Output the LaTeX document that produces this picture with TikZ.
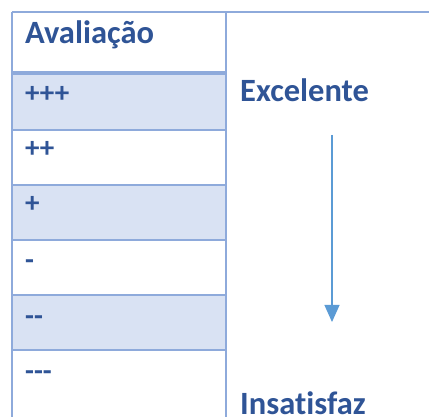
\documentclass[tikz,border=0pt]{standalone}
\usepackage{fontspec}
\setmainfont[Ligatures=NoCommon]{Carlito}
\usetikzlibrary{arrows.meta}
\definecolor{gridc}{HTML}{8EAADB}
\definecolor{shadec}{HTML}{D9E2F3}
\definecolor{textc}{HTML}{2F5496}
\definecolor{arrowc}{HTML}{5B9BD5}
\tikzset{
  gridline/.style={draw=gridc, line width=1.6pt},
  headline/.style={draw=gridc, line width=4pt},
  shade/.style={fill=shadec, draw=none},
  bigtxt/.style={anchor=base west, inner sep=0pt, text=textc, font=\fontsize{32.5}{38}\selectfont\bfseries},
  rowtxt/.style={anchor=base west, inner sep=0pt, text=textc, font=\fontsize{29}{34}\selectfont\bfseries},
  arrowline/.style={draw=arrowc, line width=1.1pt, -{Triangle[width=15pt,length=17pt]}}
}
\begin{document}
\begin{tikzpicture}[x=1pt,y=-1pt]
\useasboundingbox (0,0) rectangle (429,417);
% shaded rows
\fill[shade] (12,72) rectangle (226,130);
\fill[shade] (12,185) rectangle (226,240);
\fill[shade] (12,295) rectangle (226,350);
% grid
\draw[gridline] (12,12) -- (429,12);
\draw[gridline] (12,12) -- (12,417);
\draw[gridline] (226,12) -- (226,417);
\draw[headline] (12,73) -- (226,73);
\foreach \yy in {130,185,240,295,350}{\draw[gridline] (12,\yy) -- (226,\yy);}
% texts
\node[bigtxt] (aval) at (25,44) {Avaliação};
\node[rowtxt] (r1) at (25,103) {+++};
\node[rowtxt] (r2) at (25,158) {++};
\node[rowtxt] (r3) at (25,213) {+};
\node[rowtxt] (r4) at (25,270) {\mbox{-}};
\node[rowtxt] (r5) at (25,326) {\mbox{-}\mbox{-}};
\node[rowtxt] (r6) at (25,381) {\mbox{-}\mbox{-}\mbox{-}};
\node[bigtxt] (exc) at (240,102) {Excelente};
\node[bigtxt] (ins) at (240,414) {Insatisfaz};
% arrow
\coordinate (atop) at (332,135);
\coordinate (atip) at (332,322);
\draw[arrowline] (atop) -- (atip);
\end{tikzpicture}
\end{document}
